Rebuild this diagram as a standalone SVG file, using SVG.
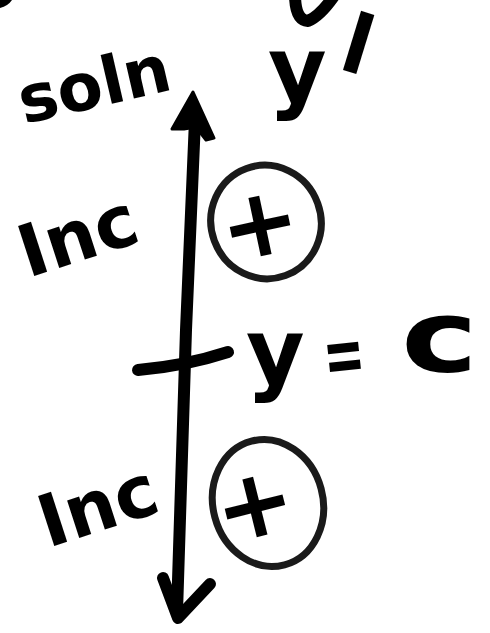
<svg xmlns="http://www.w3.org/2000/svg" width="490" height="633" viewBox="0 0 490 633">
<style>
.h{font-family:"DejaVu Sans","Liberation Sans",sans-serif;font-weight:bold;fill:#000}
.stk{fill:none;stroke:#000;stroke-linecap:round;stroke-linejoin:round}
.ring{fill:none;stroke:#1a1a1a;stroke-width:7}
</style>
<rect width="490" height="633" fill="#fff"/>
<g id="fragments">
<path fill="#000" d="M0,0 L12,0 Q8,6 0,8 Z"/>
<path class="stk" stroke-width="12" d="M295,-6 Q295,20 308,21 Q320,16 334,-4"/>
</g>
<g id="connectors">
<path class="stk" stroke-width="12" d="M195,120 L186,330 L177,612"/>
<path fill="#000" stroke="#000" stroke-width="3" stroke-linejoin="round" d="M193,92 L214,138 L206,140 L196,127 L184,129 L172,129 Z"/>
<path class="stk" stroke-width="12" d="M163,578 L178,618 L210,584"/>
</g>
<g id="equilibrium">
<path class="stk" stroke-width="12" d="M138,370 Q185,366 228,352"/>
<text class="h" font-size="90" x="246" y="383">y</text>
<text class="h" font-size="80" x="0" y="0" transform="translate(326,384) rotate(-6) scale(0.62,1)">=</text>
<text class="h" font-size="100" x="0" y="0" transform="translate(401,372) scale(1.3,1)">c</text>
</g>
<g id="label-soln">
<text class="h" font-size="66" x="24" y="124" transform="rotate(-13 24 124)">soln</text>
</g>
<g id="label-yprime">
<text class="h" font-size="90" x="268" y="101">y</text>
<text class="h" font-size="120" x="0" y="88" text-anchor="middle" transform="translate(368,12) rotate(17) scale(1,1.9)">'</text>
</g>
<g id="region-top">
<text class="h" font-size="72" x="28" y="278" transform="rotate(-18 28 278)">Inc</text>
<ellipse class="ring" cx="266" cy="222" rx="55" ry="57" transform="rotate(-20 266 222)"/>
<text class="h" font-size="95" x="259" y="256" text-anchor="middle" transform="rotate(-12 259 222)">+</text>
</g>
<g id="region-bottom">
<text class="h" font-size="72" x="48" y="548" transform="rotate(-18 48 548)">Inc</text>
<ellipse class="ring" cx="268" cy="503" rx="55" ry="64" transform="rotate(-15 268 503)"/>
<text class="h" font-size="95" x="254" y="537" text-anchor="middle" transform="rotate(-14 254 503)">+</text>
</g>
</svg>
